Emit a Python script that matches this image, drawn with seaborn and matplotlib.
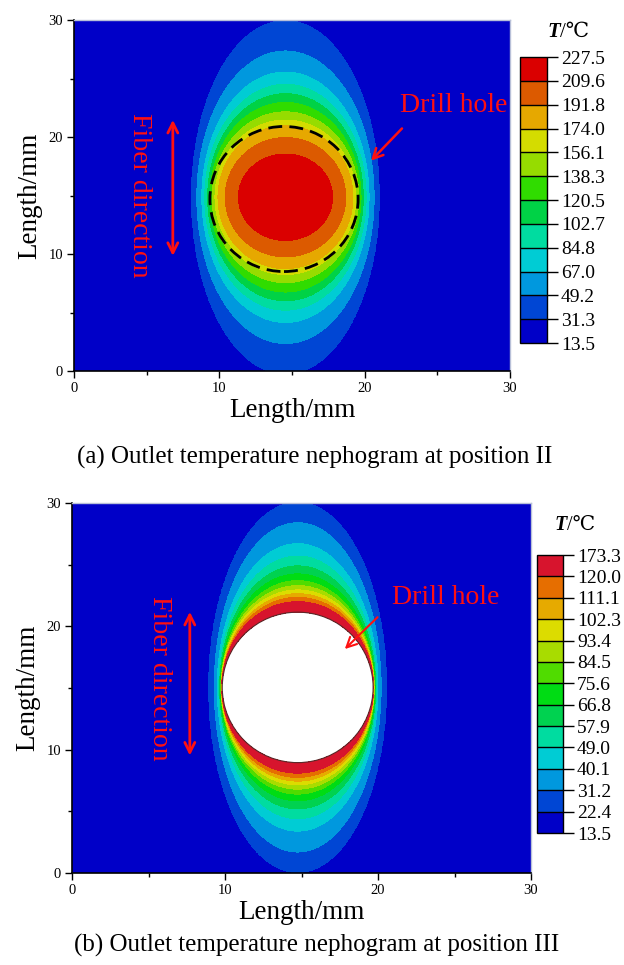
import numpy as np
import matplotlib
matplotlib.use("Agg")
import matplotlib.pyplot as plt
import seaborn as sns
from matplotlib.colors import ListedColormap, BoundaryNorm
from matplotlib.patches import Ellipse

# ---------------- data ----------------
# (a) position II : colour-bar levels (deg C) and band colours (low -> high)
levels_a = [13.5, 31.3, 49.2, 67.0, 84.8, 102.7, 120.5, 138.3, 156.1, 174.0, 191.8, 209.6, 227.5]
colors_a = ["#0000C8", "#0046D4", "#0098DE", "#00CCD4", "#00DCA0", "#00D246",
            "#30DC00", "#96DC00", "#D4DC00", "#E6A800", "#DC5A00", "#DA0000"]
# isotherm boundaries (levels_a[1:-1], outer -> inner): semi-axes in mm
semi_x_a = [6.45, 6.10, 5.75, 5.55, 5.35, 5.20, 5.05, 4.85, 4.65, 4.15, 3.25]
semi_y_a = [15.1, 12.5, 10.7, 9.65, 8.85, 8.10, 7.30, 6.60, 6.10, 5.10, 3.70]
center_a = (14.55, 14.85)
hole_outline_a = (14.45, 14.70, 5.10, 6.20)   # cx, cy, semi-x, semi-y (dashed drill hole)

# (b) position III
levels_b = [13.5, 22.4, 31.2, 40.1, 49.0, 57.9, 66.8, 75.6, 84.5, 93.4, 102.3, 111.1, 120.0, 173.3]
colors_b = ["#0000C8", "#0046D4", "#0098DE", "#00CCD4", "#00DCA0", "#00D250",
            "#00DC14", "#50DC00", "#A8DC00", "#DCDC00", "#E6AA00", "#E66E00", "#D7142D"]
semi_x_b = [5.80, 5.45, 5.25, 5.15, 5.10, 5.05, 5.02, 5.00, 4.99, 4.97, 4.96, 4.95]
semi_y_b = [15.0, 13.35, 11.65, 10.65, 9.85, 9.20, 8.65, 8.25, 7.90, 7.60, 7.30, 6.95]
center_b = (14.75, 15.05)
hole_b = (4.93, 6.10)   # semi-x, semi-y of the drilled hole

ticks = [0, 10, 20, 30]
minor_ticks = [5, 15, 25]
caption_a = "(a) Outlet temperature nephogram at position II"
caption_b = "(b) Outlet temperature nephogram at position III"

# ---------------- style ----------------
sns.set_theme(style="ticks")
plt.rcParams["font.family"] = ["Liberation Serif", "DejaVu Serif", "DejaVu Sans"]
plt.rcParams["text.color"] = "black"
plt.rcParams["axes.labelcolor"] = "black"
plt.rcParams["xtick.color"] = "black"
plt.rcParams["ytick.color"] = "black"


def ray_field(X, Y, center, sx, sy, levels, inner=None):
    """Temperature field whose isotherms are the read ellipses."""
    dx, dy = X - center[0], Y - center[1]
    d = np.hypot(dx, dy)
    th = np.arctan2(dy, dx)
    c, s = np.cos(th), np.sin(th)

    def rad(a, b):
        return 1.0 / np.sqrt((c / a) ** 2 + (s / b) ** 2)

    R = [rad(sx[0] * 1.8, sy[0] * 1.8)] + [rad(a, b) for a, b in zip(sx, sy)]
    R.append(np.zeros_like(d) if inner is None else rad(*inner))
    T = np.full_like(d, levels[0])
    for k in range(len(R) - 1):
        frac = np.clip((R[k] - d) / (R[k] - R[k + 1]), 0, 1)
        T += (levels[k + 1] - levels[k]) * frac
    return T, d, R[-1]


xg = np.linspace(0, 30, 700)
yg = np.linspace(0, 30, 700)
X, Y = np.meshgrid(xg, yg)

W, H = 624, 965
fig = plt.figure(figsize=(W / 100, H / 100), dpi=100)


def px_ax(l, t, r, b):
    return [l / W, 1 - b / H, (r - l) / W, (b - t) / H]


ax1 = fig.add_axes(px_ax(74, 20, 510, 371))
cax1 = fig.add_axes(px_ax(520, 57, 547, 343))
ax2 = fig.add_axes(px_ax(72, 503, 531, 873))
cax2 = fig.add_axes(px_ax(537, 555, 563, 833))

red = "#FF1010"


def style_axes(ax):
    ax.set_xlim(0, 30)
    ax.set_ylim(0, 30)
    ax.set_xticks(ticks)
    ax.set_yticks(ticks)
    ax.set_xticks(minor_ticks, minor=True)
    ax.set_yticks(minor_ticks, minor=True)
    ax.tick_params(which="major", direction="out", length=5, width=1, labelsize=10.5,
                   colors="black", pad=3)
    ax.tick_params(which="minor", direction="out", length=3, width=1)
    for sp in ["left", "bottom"]:
        ax.spines[sp].set_color("black")
        ax.spines[sp].set_linewidth(1.2)
    for sp in ["top", "right"]:
        ax.spines[sp].set_color("#B8C0D8")
        ax.spines[sp].set_linewidth(1.0)
    ax.set_xlabel("Length/mm", fontsize=19.5, labelpad=2, color="black")
    ax.set_ylabel("Length/mm", fontsize=19.5, labelpad=4, color="black")


def style_cbar(cb, cax, levels):
    cb.set_ticks(levels)
    cb.set_ticklabels([f"{v:.1f}" for v in levels])
    cax.tick_params(length=8, width=1, labelsize=14, pad=2, colors="black")
    cb.outline.set_edgecolor("black")
    cb.outline.set_linewidth(1)
    cb.dividers.set_color("black")
    cb.dividers.set_linewidth(1)


# ---------- (a) ----------
cmap_a = ListedColormap(sns.color_palette(colors_a))
norm_a = BoundaryNorm(levels_a, cmap_a.N)
Ta, _, _ = ray_field(X, Y, center_a, semi_x_a, semi_y_a, levels_a)
cf1 = ax1.contourf(X, Y, Ta, levels=levels_a, cmap=cmap_a, norm=norm_a)
ax1.add_patch(Ellipse(hole_outline_a[:2], 2 * hole_outline_a[2], 2 * hole_outline_a[3],
                      fill=False, ec="black", lw=2, ls=(0, (5, 2.6))))
style_axes(ax1)
ax1.text(4.5, 15.0, "Fiber direction", color=red, fontsize=20, rotation=-90,
         ha="center", va="center")
ax1.annotate("", xy=(6.8, 21.7), xytext=(6.8, 9.6),
             arrowprops=dict(arrowstyle="<->,head_length=0.6,head_width=0.3", color=red, lw=2))
ax1.text(22.4, 22.7, "Drill hole", color=red, fontsize=20, ha="left", va="center")
ax1.annotate("", xy=(20.3, 17.8), xytext=(22.7, 20.9),
             arrowprops=dict(arrowstyle="->,head_length=0.6,head_width=0.3", color=red, lw=1.8))
cb1 = fig.colorbar(cf1, cax=cax1, drawedges=True)
style_cbar(cb1, cax1, levels_a)
tA = fig.text(547 / W, 1 - 32 / H, "T", fontsize=15, fontweight="bold", style="italic",
              ha="left", va="center", color="black")
ax1.annotate("/℃", xy=(1, 0), xycoords=tA, fontsize=15, ha="left", va="bottom",
             annotation_clip=False, color="black")

# ---------- (b) ----------
cmap_b = ListedColormap(sns.color_palette(colors_b))
norm_b = BoundaryNorm(levels_b, cmap_b.N)
Tb, db, Rh = ray_field(X, Y, center_b, semi_x_b, semi_y_b, levels_b, inner=hole_b)
Tb = np.ma.masked_where(db < Rh, Tb)
cf2 = ax2.contourf(X, Y, Tb, levels=levels_b, cmap=cmap_b, norm=norm_b)
ax2.set_facecolor("white")
ax2.add_patch(Ellipse(center_b, 2 * hole_b[0], 2 * hole_b[1], fill=False,
                      ec="#5A2A2A", lw=0.8))
style_axes(ax2)
ax2.text(5.7, 15.8, "Fiber direction", color=red, fontsize=20, rotation=-90,
         ha="center", va="center")
ax2.annotate("", xy=(7.7, 21.4), xytext=(7.7, 9.3),
             arrowprops=dict(arrowstyle="<->,head_length=0.6,head_width=0.3", color=red, lw=2))
ax2.text(20.9, 22.3, "Drill hole", color=red, fontsize=20, ha="left", va="center")
ax2.annotate("", xy=(17.7, 18.0), xytext=(20.1, 20.9),
             arrowprops=dict(arrowstyle="->,head_length=0.6,head_width=0.3", color=red, lw=1.5))
cb2 = fig.colorbar(cf2, cax=cax2, drawedges=True)
style_cbar(cb2, cax2, levels_b)
tB = fig.text(555 / W, 1 - 525 / H, "T", fontsize=14.5, fontweight="bold", style="italic",
              ha="left", va="center", color="black")
ax2.annotate("/℃", xy=(1, 0), xycoords=tB, fontsize=14.5, ha="left", va="bottom",
             annotation_clip=False, color="black")

fig.text(315 / W, 1 - 457 / H, caption_a, fontsize=18, ha="center", va="center", color="black")
fig.text(317 / W, 1 - 945 / H, caption_b, fontsize=18, ha="center", va="center", color="black")

fig.savefig("out.png", dpi=100)
